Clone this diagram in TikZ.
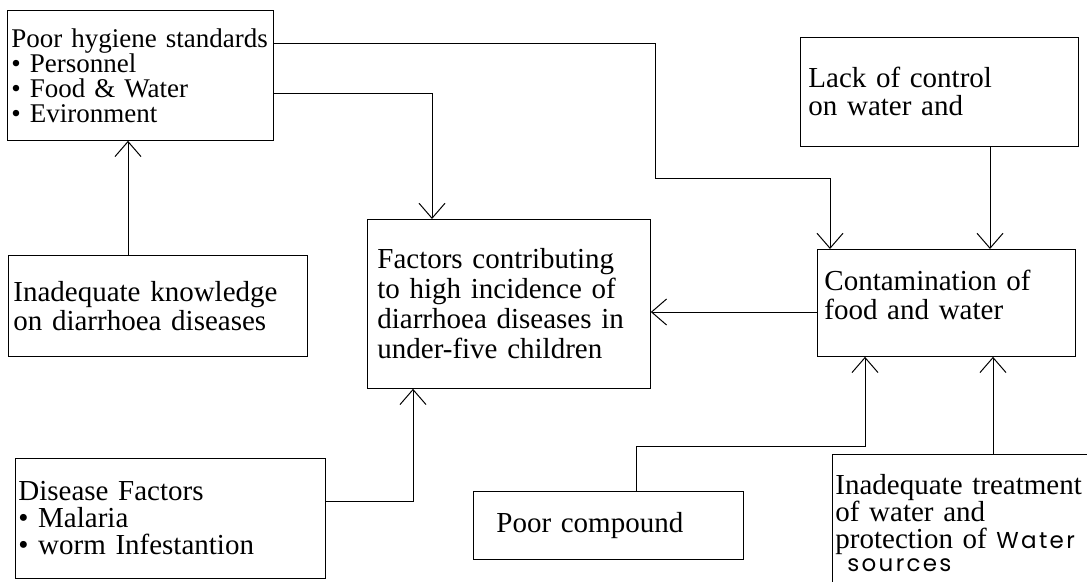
\documentclass[tikz,border=0pt]{standalone}
\usepackage{fontspec}
\setmainfont{Liberation Serif}
\newfontfamily\handfont[LetterSpace=10]{Poppins}
\usetikzlibrary{arrows.meta}

\begin{document}
\begin{tikzpicture}[x=1pt,y=-1pt,
  box/.style={draw,line width=0.8pt,rectangle,anchor=north west,align=left,inner ysep=0pt},
  arr/.style={line width=0.7pt,-{Straight Barb[length=15pt,width=26pt,line width=1pt]}}]
\useasboundingbox (0,0) rectangle (1087,581);
\clip (0,0) rectangle (1087,581);
\fill[white] (0,0) rectangle (1087,581);

% boxes
\node[box,text width=258pt,inner xsep=4pt,minimum height=130pt,font=\fontsize{27}{25}\selectfont] (hyg) at (7,10) {Poor hygiene standards\\• Personnel\\• Food \& Water\\• Evironment};
\node[box,text width=289pt,inner xsep=5pt,minimum height=101pt,font=\fontsize{29}{29}\selectfont] (know) at (8,255) {Inadequate knowledge\\on diarrhoea diseases};
\node[box,text width=263pt,inner xsep=10pt,minimum height=169pt,font=\fontsize{29}{30}\selectfont] (fac) at (367,219) {Factors contributing\\to high incidence of\\diarrhoea diseases in\\under-five children};
\node[box,text width=262pt,inner xsep=8pt,minimum height=109pt,font=\fontsize{29}{28}\selectfont] (lack) at (800,37) {Lack of control\\on water and};
\node[box,text width=244pt,inner xsep=7pt,minimum height=107pt,font=\fontsize{29}{29}\selectfont] (cont) at (817,249) {Contamination of\\food and water\\[-13pt]\mbox{}};
\node[box,text width=224pt,inner xsep=23pt,minimum height=68pt,font=\fontsize{29}{29}\selectfont] (poor) at (473,491) {Poor compound};
\node[box,text width=304pt,inner xsep=3pt,minimum height=120pt,font=\fontsize{29}{27}\selectfont] (dis) at (15,458) {Disease Factors\\• Malaria\\• worm Infestantion};
\node[box,text width=262pt,inner xsep=3pt,inner ysep=20pt,font=\fontsize{29}{27}\selectfont] (treat) at (832,454) {Inadequate treatment\\of water and\\protection of {\fontsize{23}{27}\handfont Water}\\[-4pt]\hspace*{12pt}{\fontsize{23}{27}\handfont sources}};

% connectors
\draw[arr] ([yshift=-33pt]hyg.north east) -| (655,178) -| ([xshift=13pt]cont.north west);
\draw[arr] ([yshift=-83pt]hyg.north east) -| ([xshift=65pt]fac.north west);
\draw[arr] ([xshift=120pt]know.north west) coordinate (k1) -- (k1 |- hyg.south);
\draw[arr] ([xshift=190pt]lack.south west) coordinate (l1) -- (l1 |- cont.north);
\draw[arr] ([yshift=-63pt]cont.north west) coordinate (c1) -- (c1 -| fac.east);
\draw[arr] ([yshift=-43pt]dis.north east) -| ([xshift=46pt]fac.south west);
\coordinate (pc) at (865,446);
\draw[arr] ([xshift=163pt]poor.north west) |- (pc) -- (pc |- cont.south);
\draw[arr] ([xshift=161pt]treat.north west) coordinate (t1) -- (t1 |- cont.south);
\end{tikzpicture}
\end{document}
